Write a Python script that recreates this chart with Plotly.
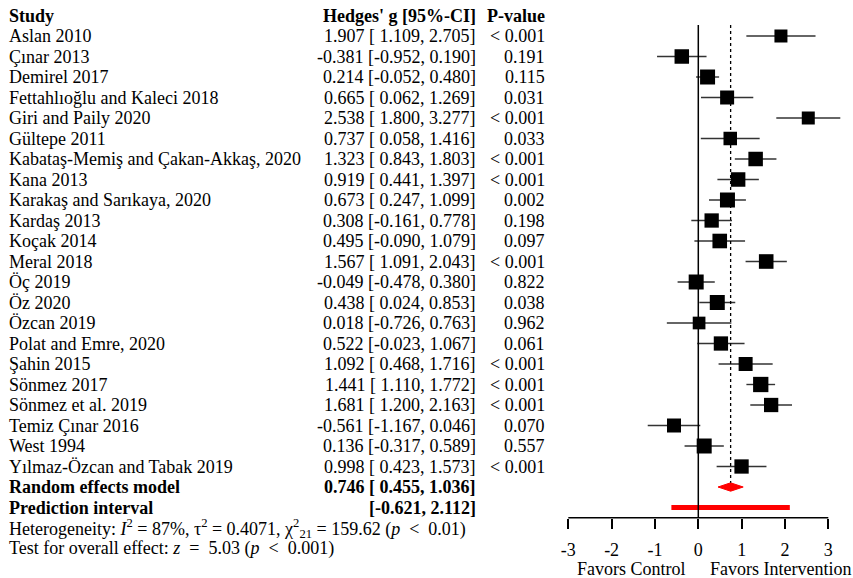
import plotly.graph_objects as go

# ---------------- data ----------------
studies = ["Aslan 2010", "Çınar 2013", "Demirel 2017", "Fettahlıoğlu and Kaleci 2018",
           "Giri and Paily 2020", "Gültepe 2011", "Kabataş-Memiş and Çakan-Akkaş, 2020",
           "Kana 2013", "Karakaş and Sarıkaya, 2020", "Kardaş 2013", "Koçak 2014",
           "Meral 2018", "Öç 2019", "Öz 2020", "Özcan 2019", "Polat and Emre, 2020",
           "Şahin 2015", "Sönmez 2017", "Sönmez et al. 2019", "Temiz Çınar 2016",
           "West 1994", "Yılmaz-Özcan and Tabak 2019"]
g = [1.907, -0.381, 0.214, 0.665, 2.538, 0.737, 1.323, 0.919, 0.673, 0.308, 0.495,
     1.567, -0.049, 0.438, 0.018, 0.522, 1.092, 1.441, 1.681, -0.561, 0.136, 0.998]
lower = [1.109, -0.952, -0.052, 0.062, 1.800, 0.058, 0.843, 0.441, 0.247, -0.161, -0.090,
         1.091, -0.478, 0.024, -0.726, -0.023, 0.468, 1.110, 1.200, -1.167, -0.317, 0.423]
upper = [2.705, 0.190, 0.480, 1.269, 3.277, 1.416, 1.803, 1.397, 1.099, 0.778, 1.079,
         2.043, 0.380, 0.853, 0.763, 1.067, 1.716, 1.772, 2.163, 0.046, 0.589, 1.573]
pvals = ["< 0.001", "0.191", "0.115", "0.031", "< 0.001", "0.033", "< 0.001", "< 0.001",
         "0.002", "0.198", "0.097", "< 0.001", "0.822", "0.038", "0.962", "0.061",
         "< 0.001", "< 0.001", "< 0.001", "0.070", "0.557", "< 0.001"]
pooled = 0.746
pooled_lo, pooled_hi = 0.455, 1.036
pred_lo, pred_hi = -0.621, 2.112
tick_vals = [-3, -2, -1, 0, 1, 2, 3]
SP = "\u2002"  # wider math spacing as in the original
heterogeneity = ("Heterogeneity: <i>I</i><sup>2</sup> = 87%, τ<sup>2</sup> = 0.4071, "
                 "χ<sup>2</sup><sub>21</sub> = 159.62 (<i>p</i>" + SP + "<" + SP + "0.01)")
overall = ("Test for overall effect: <i>z</i>" + SP + "=" + SP + "5.03 (<i>p</i>"
           + SP + "<" + SP + "0.001)")

# ---------------- style ----------------
square_px = [13, 14.5, 15, 14, 13, 13.5, 14.5, 14.5, 15, 14.3, 14.6, 14.6, 15, 15,
             12.7, 14.3, 14, 15.3, 14.3, 14, 15, 14.3]
W, H = 853, 578
FONT = "Liberation Serif, Times New Roman, serif"
FS = 18
row0_px, row_h = 36.0, 20.5          # pixel of first study row and row spacing
x_m3_px, x_p3_px = 568.3, 828.3      # pixel of -3 and 3 on the effect axis
ppu = (x_p3_px - x_m3_px) / 6.0
x_range = [-3 - x_m3_px / ppu, 3 + (W - x_p3_px) / ppu]


def row_of_px(px):
    return (px - row0_px) / row_h + 1


y_range = [row_of_px(H), row_of_px(0)]
rows = list(range(1, len(studies) + 1))
re_row = len(studies) + 1
pi_row = re_row + 1
het_row = pi_row + 1
oe_row = het_row + 1
axis_row = pi_row + 0.5

fig = go.Figure()

# study CIs and squares
fig.add_trace(go.Scatter(
    x=g, y=rows, mode="markers",
    marker=dict(symbol="square", size=square_px, color="black", opacity=1,
                line=dict(width=0)),
    error_x=dict(type="data", symmetric=False,
                 array=[u - e for u, e in zip(upper, g)],
                 arrayminus=[e - l for e, l in zip(g, lower)],
                 width=0, thickness=1.4, color="#333333"),
    showlegend=False, hoverinfo="skip", cliponaxis=False))

# diamond for pooled effect
dh = 4.2 / row_h
fig.add_trace(go.Scatter(
    x=[pooled_lo, pooled, pooled_hi, pooled, pooled_lo],
    y=[re_row, re_row - dh, re_row, re_row + dh, re_row],
    mode="lines", fill="toself", fillcolor="#ff0000",
    line=dict(color="#ff0000", width=1), showlegend=False, hoverinfo="skip"))

# prediction interval
fig.add_trace(go.Scatter(
    x=[pred_lo, pred_hi], y=[pi_row, pi_row], mode="lines",
    line=dict(color="#ff0000", width=5), showlegend=False, hoverinfo="skip"))

# reference lines
top_row = row_of_px(25)
fig.add_shape(type="line", x0=0, x1=0, y0=top_row, y1=axis_row, xref="x", yref="y",
              line=dict(color="black", width=1.5))
fig.add_shape(type="line", x0=pooled, x1=pooled, y0=top_row, y1=re_row - dh, xref="x", yref="y",
              line=dict(color="black", width=1.3, dash="dot"))
# effect axis line
fig.add_shape(type="line", x0=min(tick_vals), x1=max(tick_vals), y0=axis_row, y1=axis_row,
              xref="x", yref="y", line=dict(color="black", width=1.5))

# ---------------- text columns ----------------
name_x = 8 / W
ci_x = 477 / W
p_x = 546 / W


def ann(text, x, y, anchor, bold=False):
    if bold:
        text = "<b>" + text + "</b>"
    fig.add_annotation(text=text, x=x, y=y, xref="paper", yref="y", xanchor=anchor,
                       yanchor="middle", showarrow=False, borderpad=0,
                       font=dict(family=FONT, size=FS, color="black"))


ann("Study", name_x, 0, "left", True)
ann("Hedges' g [95%-CI]", ci_x, 0, "right", True)
ann("P-value", p_x, 0, "right", True)


def fmt(v):
    s = f"{v:.3f}"
    return s if v < 0 else "\u00a0" + s


for r, name, e, lo, hi, p in zip(rows, studies, g, lower, upper, pvals):
    ann(name, name_x, r, "left")
    ann(f"{e:.3f} [{fmt(lo)}, {hi:.3f}]", ci_x, r, "right")
    ann(p, p_x, r, "right")

ann("Random effects model", name_x, re_row, "left", True)
ann(f"{pooled:.3f} [{fmt(pooled_lo)}, {pooled_hi:.3f}]", ci_x, re_row, "right", True)
ann("Prediction interval", name_x, pi_row, "left", True)
ann(f"[{fmt(pred_lo)}, {pred_hi:.3f}]", ci_x, pi_row, "right", True)
ann(heterogeneity, name_x, het_row, "left")
ann(overall, name_x, oe_row, "left")

# favours labels
fav_row = row_of_px(568.5)
fig.add_annotation(text="Favors Control", x=-0.25, y=fav_row, xref="x", yref="y",
                   xanchor="right", yanchor="middle", showarrow=False, borderpad=0,
                   font=dict(family=FONT, size=FS, color="black"))
fig.add_annotation(text="Favors Intervention", x=0.25, y=fav_row, xref="x", yref="y",
                   xanchor="left", yanchor="middle", showarrow=False, borderpad=0,
                   font=dict(family=FONT, size=FS, color="black"))

fig.update_layout(
    width=W, height=H, margin=dict(l=0, r=0, t=0, b=0),
    paper_bgcolor="white", plot_bgcolor="white",
    xaxis=dict(range=x_range, domain=[0, 1], anchor="free", position=1 - 517.75 / H,
               showgrid=False, zeroline=False, showline=False,
               tickmode="array", tickvals=tick_vals, ticktext=[str(t) for t in tick_vals],
               ticks="outside", ticklen=10, tickwidth=1.5, tickcolor="black",
               ticklabelstandoff=6,
               tickfont=dict(family=FONT, size=FS, color="black")),
    yaxis=dict(range=y_range, domain=[0, 1], visible=False, showgrid=False, zeroline=False),
)

fig.write_html("out.html")
